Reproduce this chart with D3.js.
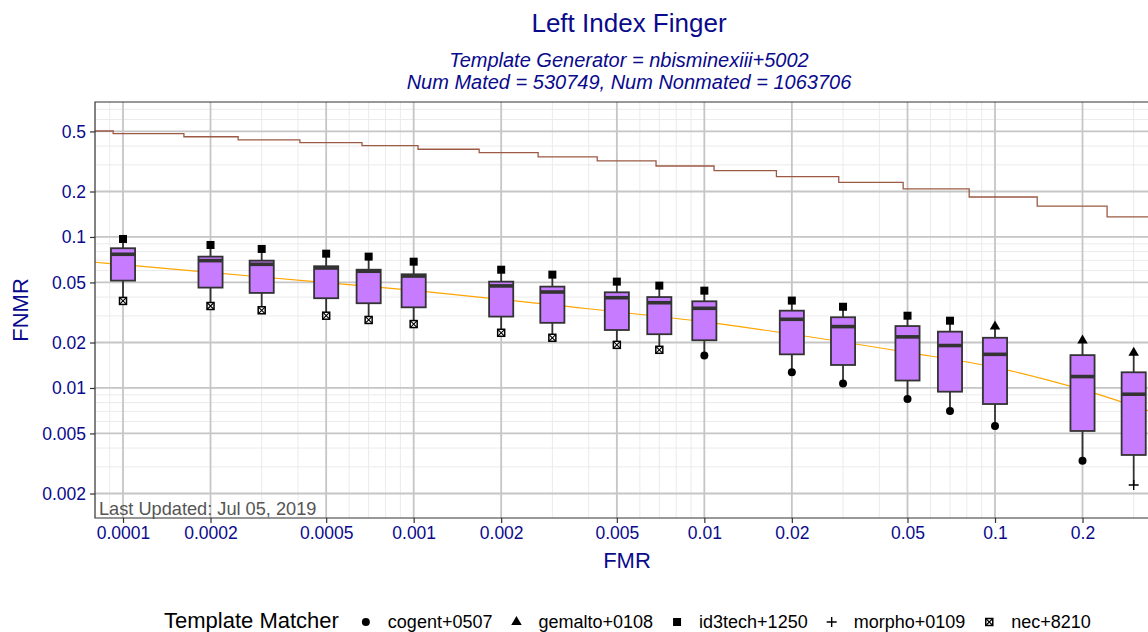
<!DOCTYPE html>
<html>
<head>
<meta charset="utf-8">
<script src="https://cdn.jsdelivr.net/npm/d3@7"></script>
<style>
  body { margin: 0; background: #fff; }
  text { font-family: "Liberation Sans", Arial, sans-serif; }
</style>
</head>
<body>
<svg id="chart" width="1148" height="632"></svg>
<script>
// FMR thresholds where the boxes sit
const fmrLevels = [0.0001, 0.0002, 0.0003, 0.0005, 0.0007, 0.001, 0.002, 0.003, 0.005, 0.007,
                   0.01, 0.02, 0.03, 0.05, 0.07, 0.1, 0.2, 0.3];
// five-number summary of FNMR across the template matchers
const fnmrMax    = [0.0970, 0.0885, 0.0833, 0.0775, 0.0741, 0.0686, 0.0607, 0.0563, 0.0506, 0.0476,
                    0.0441, 0.0379, 0.0345, 0.0301, 0.0279, 0.0255, 0.0206, 0.0171];
const fnmrQ3     = [0.0842, 0.0741, 0.0697, 0.0640, 0.0607, 0.0566, 0.0506, 0.0469, 0.0430, 0.0400,
                    0.0375, 0.0325, 0.0294, 0.0257, 0.0236, 0.0215, 0.0165, 0.0127];
const fnmrMedian = [0.0768, 0.0697, 0.0659, 0.0623, 0.0593, 0.0551, 0.0474, 0.0432, 0.0396, 0.0367,
                    0.0337, 0.0285, 0.0255, 0.0218, 0.0191, 0.0167, 0.0119, 0.00909];
const fnmrQ1     = [0.0514, 0.0462, 0.0426, 0.0393, 0.0364, 0.0342, 0.0297, 0.0270, 0.0242, 0.0227,
                    0.0207, 0.0167, 0.0142, 0.0112, 0.00945, 0.00783, 0.00519, 0.00360];
const fnmrMin    = [0.0377, 0.0349, 0.0327, 0.0301, 0.0282, 0.0265, 0.0232, 0.0215, 0.0193, 0.0179,
                    0.0164, 0.0127, 0.0107, 0.00846, 0.00704, 0.00560, 0.00330, 0.00228];
const maxMatcher = ["id3tech+1250", "id3tech+1250", "id3tech+1250", "id3tech+1250", "id3tech+1250",
                    "id3tech+1250", "id3tech+1250", "id3tech+1250", "id3tech+1250", "id3tech+1250",
                    "id3tech+1250", "id3tech+1250", "id3tech+1250", "id3tech+1250", "id3tech+1250",
                    "gemalto+0108", "gemalto+0108", "gemalto+0108"];
const minMatcher = ["nec+8210", "nec+8210", "nec+8210", "nec+8210", "nec+8210",
                    "nec+8210", "nec+8210", "nec+8210", "nec+8210", "nec+8210",
                    "cogent+0507", "cogent+0507", "cogent+0507", "cogent+0507", "cogent+0507",
                    "cogent+0507", "cogent+0507", "morpho+0109"];

// brown step curve
const stepFmr  = [0.00008, 0.0000925, 0.000162, 0.000249, 0.000406, 0.000664, 0.001035, 0.00168, 0.00268,
                  0.00428, 0.00682, 0.0108, 0.0177, 0.0290, 0.0483, 0.0815, 0.1397, 0.243, 0.4];
const stepFnmr = [0.503, 0.483, 0.461, 0.440, 0.421, 0.403, 0.381, 0.362, 0.339,
                  0.319, 0.295, 0.275, 0.251, 0.230, 0.208, 0.184, 0.160, 0.136, 0.136];

// orange smooth curve
const curveFmr  = [0.00008, 0.0001, 0.0003, 0.001, 0.003, 0.01, 0.05, 0.1, 0.2, 0.4];
const curveFnmr = [0.0680, 0.0655, 0.0543, 0.0443, 0.0355, 0.0274, 0.0172, 0.0137, 0.00975, 0.0063];

const matchers = ["cogent+0507", "gemalto+0108", "id3tech+1250", "morpho+0109", "nec+8210"];

const xTicks = [0.0001, 0.0002, 0.0005, 0.001, 0.002, 0.005, 0.01, 0.02, 0.05, 0.1, 0.2];
const xTickLabels = ["0.0001", "0.0002", "0.0005", "0.001", "0.002", "0.005", "0.01", "0.02", "0.05", "0.1", "0.2"];
const yTicks = [0.002, 0.005, 0.01, 0.02, 0.05, 0.1, 0.2, 0.5];
const yTickLabels = ["0.002", "0.005", "0.01", "0.02", "0.05", "0.1", "0.2", "0.5"];

const blue = "#0a0a8c";
const pL = 95, pR = 1163, pT = 102, pB = 518;

const svg = d3.select("#chart");

const x = d3.scaleLog().domain([8.01e-5, 0.3784]).range([pL, pR]);
const y = d3.scaleLog().domain([0.001377, 0.783]).range([pB, pT]);

svg.append("defs").append("clipPath").attr("id", "panel")
  .append("rect").attr("x", pL).attr("y", pT)
  .attr("width", pR - pL).attr("height", pB - pT);

const panel = svg.append("g").attr("clip-path", "url(#panel)");

// minor grid: 1..9 x 10^k
const minorX = [], minorY = [];
for (let k = -5; k <= 0; k++) {
  for (let m = 1; m <= 9; m++) {
    const v = m * Math.pow(10, k);
    minorX.push(v); minorY.push(v);
  }
}
panel.selectAll(".minor-x").data(minorX).enter().append("line")
  .attr("x1", d => x(d)).attr("x2", d => x(d)).attr("y1", pT).attr("y2", pB)
  .attr("stroke", "#ebebeb").attr("stroke-width", 1);
panel.selectAll(".minor-y").data(minorY).enter().append("line")
  .attr("y1", d => y(d)).attr("y2", d => y(d)).attr("x1", pL).attr("x2", pR)
  .attr("stroke", "#ebebeb").attr("stroke-width", 1);
panel.selectAll(".major-x").data(xTicks).enter().append("line")
  .attr("x1", d => x(d)).attr("x2", d => x(d)).attr("y1", pT).attr("y2", pB)
  .attr("stroke", "#c6c6c6").attr("stroke-width", 1.8);
panel.selectAll(".major-y").data(yTicks).enter().append("line")
  .attr("y1", d => y(d)).attr("y2", d => y(d)).attr("x1", pL).attr("x2", pR)
  .attr("stroke", "#c6c6c6").attr("stroke-width", 1.8);

// lines
const stepLine = d3.line().x(d => x(d[0])).y(d => y(d[1])).curve(d3.curveStepAfter);
panel.append("path").datum(d3.zip(stepFmr, stepFnmr))
  .attr("d", stepLine).attr("fill", "none").attr("stroke", "#9c5a45").attr("stroke-width", 1.3);

const smoothLine = d3.line().x(d => x(d[0])).y(d => y(d[1])).curve(d3.curveMonotoneX);
panel.append("path").datum(d3.zip(curveFmr, curveFnmr))
  .attr("d", smoothLine).attr("fill", "none").attr("stroke", "#ffa500").attr("stroke-width", 1.2);

// boxes
const boxes = fmrLevels.map((f, i) => ({
  f: f, min: fnmrMin[i], q1: fnmrQ1[i], med: fnmrMedian[i], q3: fnmrQ3[i], max: fnmrMax[i],
  minM: minMatcher[i], maxM: maxMatcher[i]
}));
const halfW = Math.pow(10, 0.0415);
const bx = panel.selectAll(".box").data(boxes).enter().append("g");
bx.append("line").attr("x1", d => x(d.f)).attr("x2", d => x(d.f))
  .attr("y1", d => y(d.max)).attr("y2", d => y(d.q3))
  .attr("stroke", "#333").attr("stroke-width", 1.8);
bx.append("line").attr("x1", d => x(d.f)).attr("x2", d => x(d.f))
  .attr("y1", d => y(d.q1)).attr("y2", d => y(d.min))
  .attr("stroke", "#333").attr("stroke-width", 1.8);
bx.append("rect")
  .attr("x", d => x(d.f / halfW)).attr("width", d => x(d.f * halfW) - x(d.f / halfW))
  .attr("y", d => y(d.q3)).attr("height", d => y(d.q1) - y(d.q3))
  .attr("fill", "#c77cff").attr("stroke", "#333").attr("stroke-width", 1.8);
bx.append("line")
  .attr("x1", d => x(d.f / halfW)).attr("x2", d => x(d.f * halfW))
  .attr("y1", d => y(d.med)).attr("y2", d => y(d.med))
  .attr("stroke", "#333").attr("stroke-width", 3.6);

// marker drawing per matcher
function drawShape(g, name, cx, cy) {
  if (name === "cogent+0507") {
    g.append("circle").attr("cx", cx).attr("cy", cy).attr("r", 4).attr("fill", "#000");
  } else if (name === "gemalto+0108") {
    g.append("path").attr("transform", `translate(${cx},${cy})`)
      .attr("d", d3.symbol().type(d3.symbolTriangle).size(48)).attr("fill", "#000");
  } else if (name === "id3tech+1250") {
    g.append("rect").attr("x", cx - 4).attr("y", cy - 4).attr("width", 8).attr("height", 8).attr("fill", "#000");
  } else if (name === "morpho+0109") {
    g.append("path").attr("d", `M${cx - 5},${cy}H${cx + 5}M${cx},${cy - 5}V${cy + 5}`)
      .attr("stroke", "#000").attr("stroke-width", 1.4).attr("fill", "none");
  } else {
    g.append("rect").attr("x", cx - 3.5).attr("y", cy - 3.5).attr("width", 7).attr("height", 7)
      .attr("fill", "#fff").attr("stroke", "#000").attr("stroke-width", 1.5);
    g.append("path").attr("d", `M${cx - 3.5},${cy - 3.5}L${cx + 3.5},${cy + 3.5}M${cx + 3.5},${cy - 3.5}L${cx - 3.5},${cy + 3.5}`)
      .attr("stroke", "#000").attr("stroke-width", 1.1);
  }
}
bx.each(function(d) {
  const g = d3.select(this);
  drawShape(g, d.maxM, x(d.f), y(d.max));
  drawShape(g, d.minM, x(d.f), y(d.min));
});

// panel border
svg.append("path").attr("d", `M${pR},${pT}H${pL}V${pB}H${pR}`)
  .attr("fill", "none").attr("stroke", "#333").attr("stroke-width", 1.2);

// axes
const xAxis = d3.axisBottom(x).tickValues(xTicks).tickFormat((d, i) => xTickLabels[i])
  .tickSizeInner(5).tickSizeOuter(0).tickPadding(4);
const gx = svg.append("g").attr("transform", `translate(0,${pB})`).call(xAxis);
gx.select(".domain").remove();
gx.selectAll("line").attr("stroke", "#333").attr("stroke-width", 1.2);
gx.selectAll("text").attr("fill", blue).style("font-size", "17.5px");

const yAxis = d3.axisLeft(y).tickValues(yTicks).tickFormat((d, i) => yTickLabels[i])
  .tickSizeInner(5).tickSizeOuter(0).tickPadding(4);
const gy = svg.append("g").attr("transform", `translate(${pL},0)`).call(yAxis);
gy.select(".domain").remove();
gy.selectAll("line").attr("stroke", "#333").attr("stroke-width", 1.2);
gy.selectAll("text").attr("fill", blue).style("font-size", "17.5px");

// footnote
svg.append("text").attr("x", 99).attr("y", 515).attr("fill", "#555")
  .style("font-size", "18.2px").text("Last Updated: Jul 05, 2019");

// titles
const mid = (pL + pR) / 2;
svg.append("text").attr("x", mid).attr("y", 32).attr("text-anchor", "middle")
  .attr("fill", blue).style("font-size", "26px").text("Left Index Finger");
svg.append("text").attr("x", mid).attr("y", 67).attr("text-anchor", "middle")
  .attr("fill", blue).style("font-size", "20px").style("font-style", "italic")
  .text("Template Generator = nbisminexiii+5002");
svg.append("text").attr("x", mid).attr("y", 89).attr("text-anchor", "middle")
  .attr("fill", blue).style("font-size", "20px").style("font-style", "italic")
  .text("Num Mated = 530749, Num Nonmated = 1063706");
svg.append("text").attr("x", 627).attr("y", 568).attr("text-anchor", "middle")
  .attr("fill", blue).style("font-size", "22px").text("FMR");
svg.append("text").attr("transform", `translate(28,${(pT + pB) / 2}) rotate(-90)`)
  .attr("text-anchor", "middle").attr("fill", blue).style("font-size", "22px").text("FNMR");

// legend
const legend = svg.append("g");
let lx = 164;
const ly = 628;
const lt = legend.append("text").attr("x", lx).attr("y", ly).attr("fill", "#000")
  .style("font-size", "22px").text("Template Matcher");
lx += lt.node().getComputedTextLength() + 27;
matchers.forEach(m => {
  drawShape(legend, m, lx, ly - 6);
  const t = legend.append("text").attr("x", lx + 22).attr("y", ly).attr("fill", "#000")
    .style("font-size", "18px").text(m);
  lx += 22 + t.node().getComputedTextLength() + 24;
});
</script>
</body>
</html>
